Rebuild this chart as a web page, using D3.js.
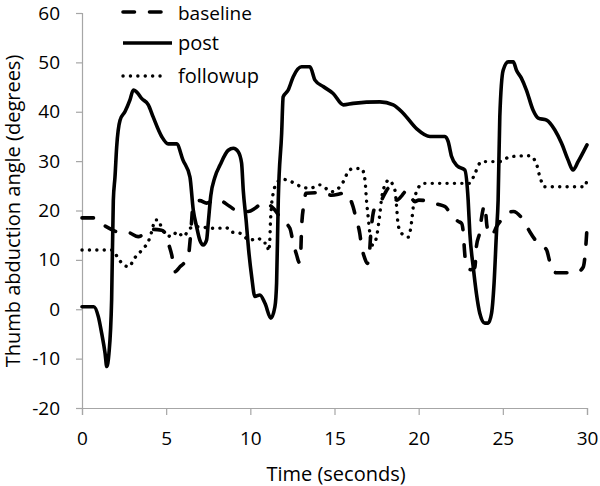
<!DOCTYPE html>
<html>
<head>
<meta charset="utf-8">
<script src="https://cdn.jsdelivr.net/npm/d3@7"></script>
<style>
  html, body { margin: 0; padding: 0; background: #fff; }
  svg { display: block; }
  text { font-family: "Open Sans", "DejaVu Sans", sans-serif; fill: #000; }
</style>
</head>
<body>
<svg id="chart" width="600" height="486"></svg>
<script>
// ---- data ----
const xTicks = [0, 5, 10, 15, 20, 25, 30];
const yTicks = [-20, -10, 0, 10, 20, 30, 40, 50, 60];
const seriesNames = ["baseline", "post", "followup"];

const baselineTime = [0, 0.77, 1.0, 1.3, 1.46, 2.06, 2.4, 2.75, 3.34, 3.7, 4.04, 4.73, 5.0, 5.13, 5.33, 5.52, 5.82, 6.1, 6.31, 6.45, 6.6, 7.0, 7.4, 8.0, 8.79, 9.18, 9.88, 10.3, 10.77, 11.46, 11.86, 12.35, 12.55, 12.75, 12.9, 13.0, 13.05, 13.2, 13.3, 14.04, 14.4, 14.83, 15.62, 16.1, 16.3, 16.5, 16.6, 16.8, 16.95, 17.05, 17.15, 17.3, 17.45, 17.6, 18.0, 18.2, 18.7, 19.0, 19.3, 19.77, 20.0, 20.67, 21.1, 21.56, 21.95, 22.35, 22.55, 22.65, 22.72, 22.8, 23.1, 23.34, 23.43, 23.63, 23.73, 23.93, 24.05, 24.2, 24.45, 24.62, 24.92, 25.3, 25.62, 26.2, 26.6, 27.0, 27.6, 27.79, 28.0, 28.18, 28.98, 29.4, 29.77, 29.9, 30];
const baselineValue = [18.5, 18.5, 18.2, 17.0, 16.7, 15.7, 15.5, 15.5, 14.7, 15.3, 16.2, 16.0, 15.0, 13.4, 11.0, 7.6, 8.6, 9.5, 10.6, 15.0, 21.0, 22.0, 21.5, 22.3, 20.8, 20.0, 19.8, 20.5, 21.6, 20.1, 18.1, 16.4, 13.4, 11.0, 9.5, 12.0, 17.0, 21.5, 23.5, 23.6, 23.5, 23.1, 23.5, 20.8, 18.1, 15.4, 13.0, 10.3, 9.3, 10.3, 15.0, 19.5, 20.8, 21.0, 23.5, 24.5, 22.1, 23.0, 24.1, 21.8, 22.1, 21.8, 21.3, 20.8, 19.1, 17.8, 17.4, 15.5, 12.0, 9.3, 8.0, 8.5, 12.7, 15.7, 18.4, 21.1, 17.0, 15.0, 15.5, 16.7, 18.1, 19.5, 19.8, 18.1, 15.7, 13.7, 12.0, 9.6, 7.6, 7.4, 7.4, 7.5, 8.5, 11.5, 16.5];

const postTime = [0, 0.7, 0.97, 1.17, 1.37, 1.47, 1.6, 1.76, 1.86, 1.96, 2.06, 2.26, 2.55, 2.85, 3.05, 3.3, 3.54, 3.94, 4.22, 4.73, 5.12, 5.62, 6.0, 6.41, 6.61, 6.81, 7.0, 7.2, 7.4, 7.5, 7.65, 7.9, 8.2, 8.69, 8.99, 9.28, 9.48, 9.58, 9.75, 9.9, 10.08, 10.27, 10.57, 10.87, 11.22, 11.46, 11.56, 11.66, 11.86, 11.95, 12.25, 12.55, 13.04, 13.54, 13.84, 14.33, 14.92, 15.52, 16.11, 17.7, 18.49, 19.08, 19.87, 20.67, 21.56, 21.75, 21.95, 22.3, 22.74, 22.94, 23.04, 23.24, 23.43, 23.63, 23.93, 24.13, 24.33, 24.48, 24.62, 24.72, 24.82, 25.02, 25.32, 25.62, 25.81, 26.1, 26.4, 26.8, 27.1, 27.6, 28.09, 28.49, 28.88, 29.17, 29.47, 30];
const postValue = [0.5, 0.5, -1.5, -4.9, -8.9, -11.6, -9.0, 1.9, 22.0, 26.8, 32.9, 38.3, 40.0, 42.4, 44.4, 43.8, 42.7, 41.4, 39.0, 35.0, 33.5, 33.5, 30.2, 26.8, 20.1, 16.7, 14.0, 13.0, 14.0, 17.5, 23.0, 26.8, 29.2, 32.2, 32.6, 31.9, 29.6, 24.1, 18.0, 12.0, 6.6, 2.6, 2.9, 1.2, -1.8, 0.5, 5.3, 22.1, 35.6, 43.0, 44.4, 47.1, 49.1, 49.1, 46.4, 45.1, 43.7, 41.4, 41.7, 42.0, 41.4, 39.7, 36.6, 35.0, 35.0, 34.0, 31.0, 29.0, 28.2, 22.1, 15.4, 8.6, 3.2, -0.8, -2.8, -2.8, -0.8, 5.3, 15.4, 22.1, 39.0, 48.4, 50.1, 50.1, 48.4, 46.8, 44.4, 40.3, 38.7, 38.3, 36.3, 33.6, 30.2, 28.2, 29.9, 33.3];

const followupTime = [0, 1.76, 2.16, 2.45, 2.81, 3.05, 3.64, 3.94, 4.14, 4.35, 4.55, 4.7, 4.93, 5.33, 5.66, 6.02, 6.41, 6.81, 7.9, 8.6, 8.79, 9.38, 9.98, 10.47, 10.77, 11.0, 11.08, 11.15, 11.2, 11.36, 11.62, 11.95, 12.45, 13.04, 13.54, 14.13, 14.83, 15.52, 15.82, 16.11, 16.61, 16.81, 16.9, 17.0, 17.1, 17.25, 17.45, 17.7, 17.8, 18.1, 18.19, 18.59, 18.69, 18.78, 18.98, 19.38, 19.58, 19.68, 19.87, 20.27, 21.85, 23.04, 23.34, 23.73, 24.82, 25.42, 25.81, 26.6, 27.0, 27.2, 27.5, 29.87, 30];
const followupValue = [12.0, 12.0, 10.3, 9.0, 8.6, 10.0, 12.3, 13.7, 15.7, 18.1, 18.1, 16.7, 15.4, 14.7, 15.7, 14.7, 16.4, 16.7, 16.4, 16.5, 15.7, 15.4, 14.0, 14.4, 13.4, 13.4, 11.8, 13.5, 18.0, 23.5, 25.8, 26.3, 25.8, 24.8, 24.5, 25.2, 23.8, 25.8, 27.9, 28.5, 28.5, 26.2, 22.1, 18.7, 15.4, 13.0, 14.0, 19.5, 22.5, 25.8, 26.2, 24.1, 20.8, 17.1, 15.4, 14.6, 17.7, 20.8, 23.8, 25.5, 25.5, 25.5, 27.5, 29.9, 29.9, 30.9, 31.0, 31.1, 29.4, 26.8, 24.8, 24.8, 26.3];

// ---- layout ----
const svg = d3.select("#chart");
const x = d3.scaleLinear().domain([0, 30]).range([82, 587]);
const y = d3.scaleLinear().domain([-20, 60]).range([408, 13]);
const axisColor = "#a6a6a6";

// axes
const xAxis = svg.append("g").attr("transform", `translate(0,${y(-20)})`)
  .call(d3.axisBottom(x).tickValues(xTicks).tickSize(7).tickPadding(17).tickFormat(d => String(d)));
const yAxis = svg.append("g").attr("transform", `translate(${x(0)},0)`)
  .call(d3.axisLeft(y).tickValues(yTicks).tickSize(6).tickPadding(16).tickFormat(d => String(d)));
[xAxis, yAxis].forEach(g => {
  g.select(".domain").attr("stroke", axisColor).attr("stroke-width", 1.2);
  g.selectAll(".tick line").attr("stroke", axisColor).attr("stroke-width", 1.2);
  g.selectAll(".tick text").attr("font-size", 19).attr("fill", "#000")
    .style("font-family", '"Open Sans", sans-serif');
});

// axis titles
svg.append("text").attr("x", 336).attr("y", 481).attr("text-anchor", "middle")
  .attr("font-size", 20).text("Time (seconds)");
svg.append("text").attr("transform", "translate(20,211) rotate(-90)")
  .attr("text-anchor", "middle").attr("font-size", 20)
  .text("Thumb abduction angle (degrees)");

// series
const styles = {
  baseline: { width: 3.6, dash: "11.5 15", cap: "round" },
  post:     { width: 3.6, dash: null, cap: "round" },
  followup: { width: 3.4, dash: "0.1 7.3", cap: "round" }
};
const seriesData = {
  baseline: baselineTime.map((t, i) => [t, baselineValue[i]]),
  post: postTime.map((t, i) => [t, postValue[i]]),
  followup: followupTime.map((t, i) => [t, followupValue[i]])
};
const line = d3.line().x(d => x(d[0])).y(d => y(d[1])).curve(d3.curveMonotoneX);

["followup", "baseline", "post"].forEach(name => {
  const s = styles[name];
  svg.append("path").datum(seriesData[name])
    .attr("d", line).attr("fill", "none").attr("stroke", "#000")
    .attr("stroke-width", s.width).attr("stroke-linecap", s.cap)
    .attr("stroke-linejoin", "round")
    .attr("stroke-dasharray", s.dash);
});

// legend
const legendRows = [
  { name: "baseline", y: 12, x2: 163, size: 19, dy: 8 },
  { name: "post", y: 43, x2: 172, size: 20, dy: 7 },
  { name: "followup", y: 76, x2: 164, size: 20, dy: 7 }
];
legendRows.forEach(r => {
  const s = styles[r.name];
  svg.append("line").attr("x1", 123).attr("x2", r.x2).attr("y1", r.y).attr("y2", r.y)
    .attr("stroke", "#000").attr("stroke-width", s.width)
    .attr("stroke-linecap", r.name === "post" ? "butt" : s.cap)
    .attr("stroke-dasharray", s.dash);
  svg.append("text").attr("x", 178).attr("y", r.y + r.dy)
    .attr("font-size", r.size).text(r.name);
});
</script>
</body>
</html>
